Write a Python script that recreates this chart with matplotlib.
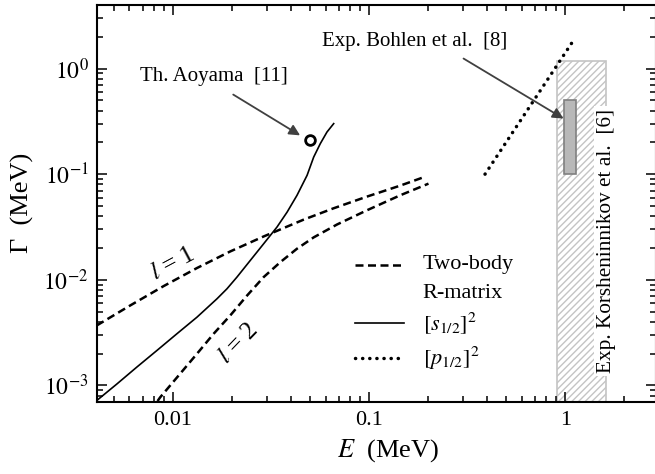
import matplotlib
matplotlib.use("Agg")
import matplotlib.pyplot as plt
from matplotlib.patches import Rectangle
from matplotlib.lines import Line2D
from matplotlib.ticker import FixedLocator, LogLocator, FixedFormatter, NullFormatter

plt.rcParams['font.family'] = ['Liberation Serif', 'DejaVu Serif']
plt.rcParams['mathtext.fontset'] = 'stix'

# Two-body R-matrix widths, l = 1
e_l1 = [0.00409, 0.00605, 0.00897, 0.01326, 0.0196, 0.0290, 0.0464, 0.0657, 0.0973, 0.1439, 0.1857]
g_l1 = [0.00369, 0.0057, 0.00871, 0.01291, 0.01854, 0.0257, 0.0371, 0.0474, 0.0612, 0.0778, 0.0922]

# Two-body R-matrix widths, l = 2
e_l2 = [0.00835, 0.00861, 0.01089, 0.01326, 0.01613, 0.0196, 0.0239, 0.0290, 0.0353, 0.0429,
        0.0522, 0.0687, 0.0973, 0.1439, 0.2008]
g_l2 = [0.00071, 0.00077, 0.00129, 0.00199, 0.00308, 0.00459, 0.0071, 0.01059, 0.01469, 0.01967,
        0.0252, 0.0334, 0.0454, 0.0630, 0.0813]

# [s1/2]^2 configuration
e_s = [0.00409, 0.00518, 0.00655, 0.00829, 0.01048, 0.01326, 0.01677, 0.01887, 0.0212, 0.0248,
       0.0290, 0.0339, 0.0382, 0.0429, 0.0483, 0.0522, 0.0564, 0.0610, 0.0660]
g_s = [0.000718, 0.00103, 0.00149, 0.00214, 0.00308, 0.00442, 0.0066, 0.00822, 0.01059, 0.01524,
       0.0219, 0.0315, 0.0437, 0.0630, 0.0975, 0.1452, 0.1945, 0.2506, 0.301]

# [p1/2]^2 configuration
e_p = [0.39, 1.08]
g_p = [0.10, 1.75]

# Th. Aoyama
aoyama_E = [0.050]
aoyama_G = [0.21]

# Exp. Korsheninnikov et al.
korsh_E = [0.91, 1.62]
korsh_G = [1e-4, 1.17]

# Exp. Bohlen et al.
bohlen_E = [0.99, 1.14]
bohlen_G = [0.10, 0.50]

x_major = [0.01, 0.1, 1]
x_labels = ['0.01', '0.1', '1']
y_major = [1e-3, 1e-2, 1e-1, 1e0]
y_labels = [r'$10^{-3}$', r'$10^{-2}$', r'$10^{-1}$', r'$10^{0}$']

fig = plt.figure(figsize=(6.55, 4.74), dpi=100)
ax = fig.add_axes([0.148, 0.1525, 0.8535, 0.8370])
ax.set_xscale('log')
ax.set_yscale('log')
ax.set_xlim(0.0041, 2.9)
ax.set_ylim(7e-4, 4.0)

# experimental bands
ax.add_patch(Rectangle((korsh_E[0], korsh_G[0]), korsh_E[1] - korsh_E[0], korsh_G[1] - korsh_G[0],
                       facecolor='white', edgecolor='#c4c4c4', hatch='/////', lw=1.2, zorder=1))
ax.add_patch(Rectangle((bohlen_E[0], bohlen_G[0]), bohlen_E[1] - bohlen_E[0], bohlen_G[1] - bohlen_G[0],
                       facecolor='#b8b8b8', edgecolor='#808080', lw=1.2, zorder=3))

dash = (3.2, 1.8)
dot = dict(lw=2.5, dashes=(0.05, 2.0), dash_capstyle='round')
ax.plot(e_l1, g_l1, color='black', lw=1.8, dashes=dash, zorder=4)
ax.plot(e_l2, g_l2, color='black', lw=1.8, dashes=dash, zorder=4)
ax.plot(e_s, g_s, color='black', lw=1.2, zorder=4)
ax.plot(e_p, g_p, color='black', zorder=4, **dot)
ax.plot(aoyama_E, aoyama_G, 'o', ms=7, mfc='white', mec='black', mew=2.0, zorder=5)

ax.text(0.0100, 0.0142, r'$l$ = 1', fontsize=18, rotation=28, ha='center', va='center', zorder=6)
ax.text(0.0216, 0.00247, r'$l$ = 2', fontsize=18, rotation=46, ha='center', va='center', zorder=6)

arrow = dict(arrowstyle='-|>', color='#404040', lw=1.3, mutation_scale=16, shrinkA=0, shrinkB=0)
ax.text(0.0162, 0.845, 'Th. Aoyama  [11]', fontsize=15, ha='center', va='center')
ax.annotate('', xy=(0.0445, 0.233), xytext=(0.0203, 0.567), arrowprops=arrow, zorder=6)
ax.text(0.170, 1.82, 'Exp. Bohlen et al.  [8]', fontsize=15, ha='center', va='center')
ax.annotate('', xy=(0.98, 0.336), xytext=(0.303, 1.244), arrowprops=arrow, zorder=6)
ax.text(1.62, 0.0013, 'Exp. Korsheninnikov et al.  [6]', fontsize=15.3, rotation=90,
        ha='center', va='bottom', zorder=5,
        bbox=dict(facecolor='white', edgecolor='none', pad=2))

# legend
tr = ax.transAxes
rows = [(0.3446, dict(lw=1.8, dashes=dash)), (0.1976, dict(lw=1.2)), (0.1094, dot)]
for yy, kw in rows:
    ax.add_line(Line2D([0.4615, 0.549], [yy, yy], color='black', transform=tr, **kw))
for yy, txt in [(0.3446, 'Two-body'), (0.274, 'R-matrix'),
                (0.1976, r'$[s_{1/2}]^2$'), (0.1094, r'$[p_{1/2}]^2$')]:
    ax.text(0.5827, yy, txt, fontsize=16, transform=tr, ha='left', va='center')

# axes styling
for s in ax.spines.values():
    s.set_linewidth(1.5)
ax.xaxis.set_major_locator(FixedLocator(x_major))
ax.xaxis.set_major_formatter(FixedFormatter(x_labels))
ax.xaxis.set_minor_locator(LogLocator(base=10, subs=range(2, 10), numticks=20))
ax.xaxis.set_minor_formatter(NullFormatter())
ax.yaxis.set_major_locator(FixedLocator(y_major))
ax.yaxis.set_major_formatter(FixedFormatter(y_labels))
ax.yaxis.set_minor_locator(LogLocator(base=10, subs=range(2, 10), numticks=20))
ax.yaxis.set_minor_formatter(NullFormatter())
ax.tick_params(which='both', direction='in', top=True, right=True, width=1.1)
ax.tick_params(which='major', length=7)
ax.tick_params(which='minor', length=4)
ax.tick_params(axis='x', which='major', labelsize=16, pad=7)
ax.tick_params(axis='y', which='major', labelsize=17, pad=6)

ax.set_xlabel(r'$E$  (MeV)', fontsize=19)
ax.set_ylabel('Γ  (MeV)', fontsize=19)
ax.xaxis.set_label_coords(0.52, -0.09)
ax.yaxis.set_label_coords(-0.113, 0.5)

fig.savefig('out.png', dpi=100)
